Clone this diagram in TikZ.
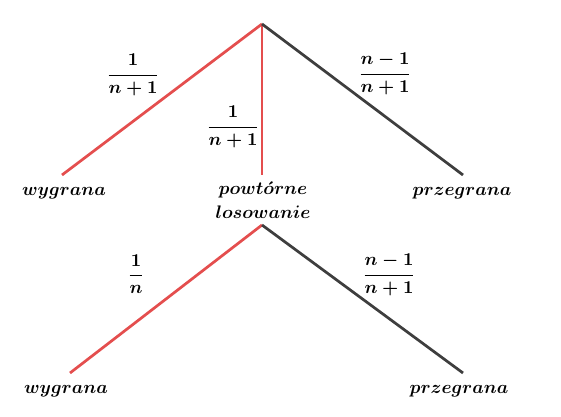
\documentclass[tikz,border=0pt]{standalone}
\usepackage{amsmath}
\definecolor{redline}{RGB}{228,78,78}
\definecolor{darkline}{RGB}{62,62,62}
\tikzset{
  redbranch/.style={draw=redline, line width=1.5pt},
  darkbranch/.style={draw=darkline, line width=1.5pt},
  leaflabel/.style={font=\boldmath, inner sep=0pt, align=center},
  problabel/.style={font=\boldmath, inner sep=0pt}
}
\begin{document}
\begin{tikzpicture}[x=0.55pt, y=-0.55pt]
\useasboundingbox (0,0) rectangle (561,417);
% level 1
\coordinate (root) at (262,24);
\coordinate (w1) at (62,175);
\coordinate (p1) at (262,175);
\coordinate (l1) at (463,175);
\draw[redbranch] (root) -- (w1);
\draw[redbranch] (root) -- (p1);
\draw[darkbranch] (root) -- (l1);
\node[leaflabel] (tw1) at (64,193) {$wygrana$};
\node[leaflabel] (tp1) at (263,200) {$powt\acute{o}rne$\\[1pt]$losowanie$};
\node[leaflabel] (tl1) at (462,193) {$przegrana$};
\node[problabel] (f1) at (133,75) {$\dfrac{1}{n+1}$};
\node[problabel] (f2) at (233,127) {$\dfrac{1}{n+1}$};
\node[problabel] (f3) at (385,74) {$\dfrac{n-1}{n+1}$};
% level 2
\coordinate (root2) at (262,225);
\coordinate (w2) at (70,373);
\coordinate (l2) at (463,373);
\draw[redbranch] (root2) -- (w2);
\draw[darkbranch] (root2) -- (l2);
\node[leaflabel] (tw2) at (66,391) {$wygrana$};
\node[leaflabel] (tl2) at (459,391) {$przegrana$};
\node[problabel] (f4) at (136,274) {$\dfrac{1}{n}$};
\node[problabel] (f5) at (389,275) {$\dfrac{n-1}{n+1}$};
\end{tikzpicture}
\end{document}
